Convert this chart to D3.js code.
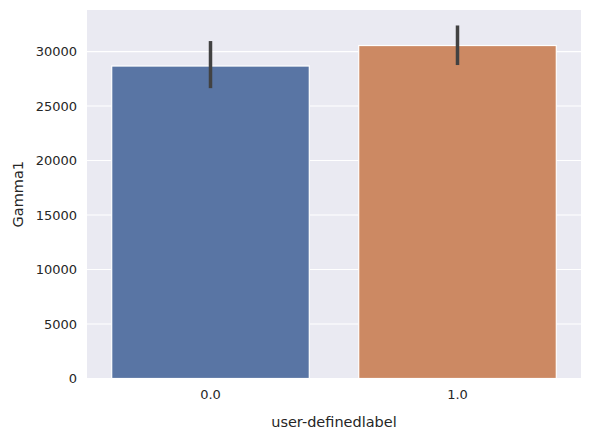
<!DOCTYPE html>
<html><head><meta charset="utf-8">
<script src="https://cdn.jsdelivr.net/npm/d3@7"></script>
<style>body{margin:0;background:#fff}text{font-family:"DejaVu Sans",sans-serif}</style>
</head><body><svg id="c" width="592" height="437"></svg>
<script>
var labels = ["0.0", "1.0"];
var values = [28670, 30550];
var errLow = [26640, 28760];
var errHigh = [30960, 32390];
var yTicks = [0, 5000, 10000, 15000, 20000, 25000, 30000];
var colors = ["#5975a4", "#cc8963"];

var svg = d3.select("#c");
var L = 87, R = 581, T = 10, B = 378.5;
var x = d3.scalePoint().domain(labels).range([L, R]).padding(0.5);
var bw = x.step() * 0.8;
var y = d3.scaleLinear().domain([0, 33810]).range([B, T]);

svg.append("rect").attr("x", L).attr("y", T).attr("width", R - L).attr("height", B - T).attr("fill", "#eaeaf2");
svg.selectAll(".grid").data(yTicks).enter().append("line")
  .attr("x1", L).attr("x2", R).attr("y1", d => y(d)).attr("y2", d => y(d))
  .attr("stroke", "#fff").attr("stroke-width", 1.2);

svg.selectAll(".bar").data(labels).enter().append("rect")
  .attr("x", d => x(d) - bw / 2).attr("width", bw)
  .attr("y", (d, i) => y(values[i])).attr("height", (d, i) => B - y(values[i]))
  .attr("fill", (d, i) => colors[i]).attr("stroke", "#fff").attr("stroke-width", 1.2);

svg.selectAll(".err").data(labels).enter().append("line")
  .attr("x1", d => x(d)).attr("x2", d => x(d))
  .attr("y1", (d, i) => y(errLow[i])).attr("y2", (d, i) => y(errHigh[i]))
  .attr("stroke", "#424242").attr("stroke-width", 3.5);

svg.selectAll(".yt").data(yTicks).enter().append("text")
  .attr("x", L - 10).attr("y", d => y(d)).attr("dy", "0.35em")
  .attr("text-anchor", "end").attr("font-size", 13).attr("fill", "#262626").text(d => d);
svg.selectAll(".xt").data(labels).enter().append("text")
  .attr("x", d => x(d)).attr("y", B + 20)
  .attr("text-anchor", "middle").attr("font-size", 13).attr("fill", "#262626").text(d => d);

svg.append("text").attr("x", (L + R) / 2).attr("y", 427).attr("text-anchor", "middle")
  .attr("font-size", 14.5).attr("fill", "#262626").text("user-definedlabel");
svg.append("text").attr("transform", "translate(23," + (T + B) / 2 + ") rotate(-90)")
  .attr("text-anchor", "middle").attr("font-size", 14.5).attr("fill", "#262626").text("Gamma1");
</script></body></html>
